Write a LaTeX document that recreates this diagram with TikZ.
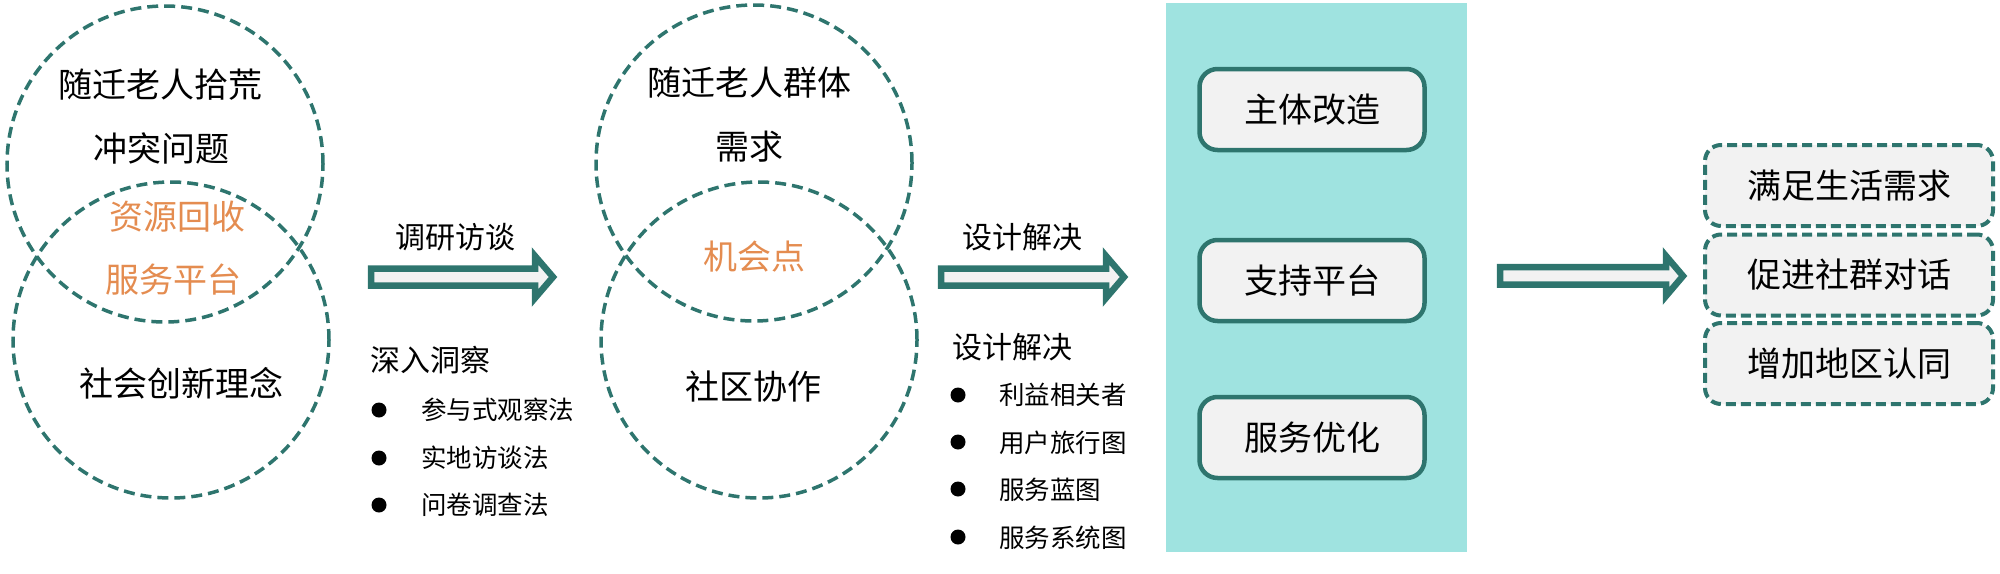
\documentclass[tikz,border=0pt]{standalone}
\usepackage{fontspec}
\newfontfamily\cjk{Noto Sans CJK SC}
\definecolor{tealline}{HTML}{2E756E}
\definecolor{panelcyan}{HTML}{9FE3E0}
\definecolor{boxgray}{HTML}{F2F2F2}
\definecolor{orangetxt}{HTML}{E48C50}
\tikzset{
  venn/.style={circle, draw=tealline, line width=3.5pt, dash pattern=on 11pt off 6pt, minimum size=316pt, inner sep=0pt},
  bigtxt/.style={font=\cjk\fontsize{34}{40}\selectfont, inner sep=0pt, text=black},
  midtxt/.style={font=\cjk\fontsize{30}{36}\selectfont, inner sep=0pt, text=black, anchor=west},
  smalltxt/.style={font=\cjk\fontsize{25.5}{30}\selectfont, inner sep=0pt, text=black, anchor=west},
  orangetext/.style={bigtxt, text=orangetxt},
  bulletdot/.style={circle, fill=black, minimum size=15pt, inner sep=0pt},
  blockarrow/.style={draw=tealline, fill=boxgray, line width=6.5pt, line join=miter},
  solidbox/.style={rectangle, rounded corners=18pt, draw=tealline, fill=boxgray, line width=4.5pt, minimum width=225pt, minimum height=81pt, inner sep=0pt, font=\cjk\fontsize{34}{40}\selectfont},
  dashbox/.style={rectangle, rounded corners=16pt, draw=tealline, fill=boxgray, line width=4pt, dash pattern=on 10pt off 5pt, minimum width=288pt, minimum height=81pt, inner sep=0pt, font=\cjk\fontsize{34}{40}\selectfont}
}
\begin{document}
\begin{tikzpicture}[x=1pt,y=-1pt]
\useasboundingbox (0,0) rectangle (2000,573);

% left venn
\node[venn] (lt) at (165,164) {};
\node[venn] (lb) at (171,340) {};
\node[bigtxt] (lt1) at (160,85) {随迁老人拾荒};
\node[bigtxt] (lt2) at (161,148) {冲突问题};
\node[orangetext] (lo1) at (177,217) {资源回收};
\node[orangetext] (lo2) at (173,280) {服务平台};
\node[bigtxt] (lb1) at (181,383) {社会创新理念};

% arrow 1
\draw[blockarrow] (371,268.5) -- (535,268.5) -- (535,256) -- (553,277) -- (535,298) -- (535,285.5) -- (371,285.5) -- cycle;
\node[bigtxt, font=\cjk\fontsize{30}{36}\selectfont] (a1l) at (455,237) {调研访谈};

% list 1
\node[midtxt] (h1) at (370,360) {深入洞察};
\node[bulletdot] (b11) at (379,410) {};
\node[bulletdot] (b12) at (379,458) {};
\node[bulletdot] (b13) at (379,505) {};
\node[smalltxt] (t11) at (421,410) {参与式观察法};
\node[smalltxt] (t12) at (421,458) {实地访谈法};
\node[smalltxt] (t13) at (421,505) {问卷调查法};

% middle venn
\node[venn] (mt) at (754,163) {};
\node[venn] (mb) at (759,340) {};
\node[bigtxt] (mt1) at (749,83) {随迁老人群体};
\node[bigtxt] (mt2) at (749,147) {需求};
\node[orangetext] (mo1) at (754,257) {机会点};
\node[bigtxt] (mb1) at (753,387) {社区协作};

% arrow 2
\draw[blockarrow] (941,268.5) -- (1106,268.5) -- (1106,256) -- (1124,277) -- (1106,298) -- (1106,285.5) -- (941,285.5) -- cycle;
\node[bigtxt, font=\cjk\fontsize{30}{36}\selectfont] (a2l) at (1022,237) {设计解决};

% list 2
\node[midtxt] (h2) at (952,347) {设计解决};
\node[bulletdot] (b21) at (958,395) {};
\node[bulletdot] (b22) at (958,442) {};
\node[bulletdot] (b23) at (958,489) {};
\node[bulletdot] (b24) at (958,537) {};
\node[smalltxt] (t21) at (999,395) {利益相关者};
\node[smalltxt] (t22) at (999,443) {用户旅行图};
\node[smalltxt] (t23) at (999,490) {服务蓝图};
\node[smalltxt] (t24) at (999,538) {服务系统图};

% panel
\fill[panelcyan] (1166,3) rectangle (1467,552);
\node[solidbox] (p1) at (1312,109.5) {主体改造};
\node[solidbox] (p2) at (1312,280.5) {支持平台};
\node[solidbox] (p3) at (1312,437.5) {服务优化};

% arrow 3
\draw[blockarrow] (1500,267) -- (1666,267) -- (1666,256) -- (1683,276) -- (1666,296) -- (1666,284.5) -- (1500,284.5) -- cycle;

% right boxes
\node[dashbox] (r1) at (1849,185.5) {满足生活需求};
\node[dashbox] (r2) at (1849,275) {促进社群对话};
\node[dashbox] (r3) at (1849,363.5) {增加地区认同};
\end{tikzpicture}
\end{document}
